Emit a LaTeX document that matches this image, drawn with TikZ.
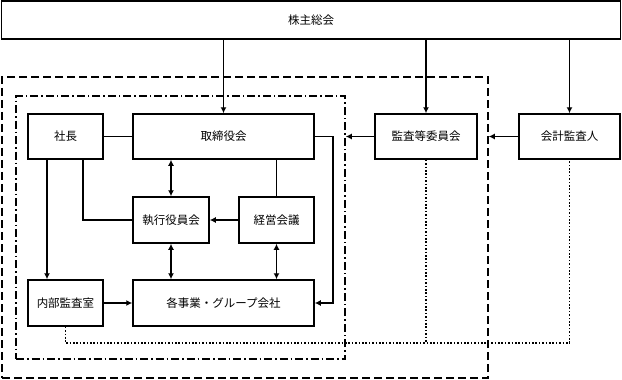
\documentclass[tikz,border=0pt]{standalone}
\usepackage{fontspec}
\setmainfont{Noto Sans CJK JP}
\usetikzlibrary{arrows.meta}
\begin{document}
\begin{tikzpicture}[x=1pt,y=-1pt,
  box/.style={draw, line width=1.5pt, inner sep=0pt, font=\fontsize{11.5}{14}\selectfont},
  conn/.style={line width=1.5pt},
  arr/.style={conn, -{Latex[length=6pt,width=6pt]}},
  darr/.style={conn, {Latex[length=6pt,width=6pt]}-{Latex[length=6pt,width=6pt]}},
  dotline/.style={line width=1.5pt, dash pattern=on 1.6pt off 1.8pt},
  outerframe/.style={draw, line width=1.5pt, dash pattern=on 8pt off 4pt, inner sep=0pt},
  innerframe/.style={draw, line width=1.5pt, dash pattern=on 8pt off 3pt on 1.5pt off 3pt, inner sep=0pt}]
\useasboundingbox (0,0) rectangle (622,380);
% frames
\node[outerframe, minimum width=486pt, minimum height=301pt] (outer) at (245,227.5) {};
\node[innerframe, minimum width=329pt, minimum height=263pt] (inner) at (180.5,227.5) {};
% boxes
\node[box, minimum width=619pt, minimum height=38pt] (kabu) at (311,20) {株主総会};
\node[box, minimum width=75pt, minimum height=45pt] (shacho) at (65.5,136.5) {社長};
\node[box, minimum width=181pt, minimum height=45pt] (tori) at (223.5,136.5) {取締役会};
\node[box, minimum width=76pt, minimum height=46pt] (shikko) at (171,220) {執行役員会};
\node[box, minimum width=75pt, minimum height=46pt] (keiei) at (276.5,220) {経営会議};
\node[box, minimum width=75pt, minimum height=46pt] (naibu) at (65.5,303) {内部監査室};
\node[box, minimum width=181pt, minimum height=46pt] (kaku) at (223.5,303) {各事業・グループ会社};
\node[box, minimum width=102pt, minimum height=45pt] (kansa) at (426,136.5) {監査等委員会};
\node[box, minimum width=101pt, minimum height=45pt] (kaikei) at (569.5,136.5) {会計監査人};
% helper coordinates
\coordinate (rx) at (333,0);
\coordinate (dl) at (0,343);
% connectors from shareholders
\draw[arr] (kabu.south -| tori.north) -- (tori.north);
\draw[arr] (kabu.south -| kansa.north) -- (kansa.north);
\draw[arr] (kabu.south -| kaikei.north) -- (kaikei.north);
% inside
\draw[conn] (shacho.east) -- (tori.west);
\draw[arr] ([xshift=-18.5pt]shacho.south) -- ([xshift=-18.5pt]naibu.north);
\draw[conn] ([xshift=17.5pt]shacho.south) |- (shikko.west);
\draw[darr] (tori.south -| shikko.north) -- (shikko.north);
\draw[conn] (tori.south -| keiei.north) -- (keiei.north);
\draw[arr] (keiei.west) -- (shikko.east);
\draw[darr] (shikko.south) -- (shikko.south |- kaku.north);
\draw[darr] (keiei.south) -- (keiei.south |- kaku.north);
\draw[arr] (naibu.east) -- (kaku.west);
\draw[arr] (tori.east) -- (tori.east -| rx) |- (kaku.east);
% audit
\draw[arr] (kansa.west) -- (kansa.west -| inner.east);
\draw[arr] (kaikei.west) -- (kaikei.west -| outer.east);
% dotted
\draw[dotline] (naibu.south) -- (naibu.south |- dl) -| (kaikei.south);
\draw[dotline] (kansa.south) -- (kansa.south |- dl);
\end{tikzpicture}
\end{document}
